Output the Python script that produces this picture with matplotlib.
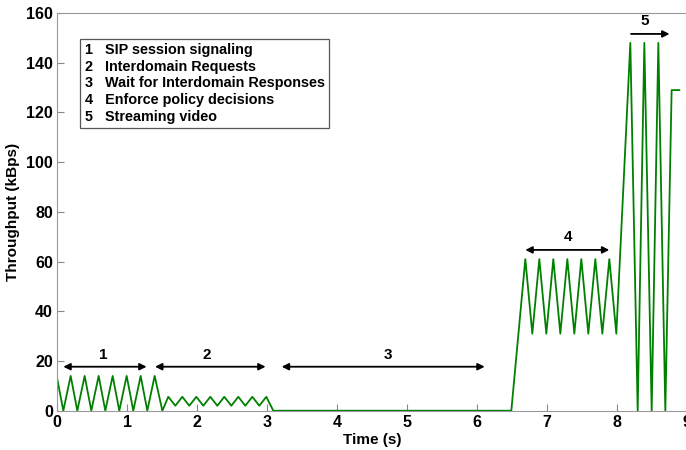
import matplotlib
matplotlib.use("Agg")
import matplotlib.pyplot as plt

plt.rcParams['font.family'] = ['Liberation Sans', 'DejaVu Sans']
plt.rcParams['font.weight'] = 'bold'

# throughput trace (time in s, kBps)
t = [0, 0.09, 0.195, 0.29, 0.395, 0.49, 0.595, 0.69, 0.795, 0.89, 0.995,
     1.09, 1.195, 1.29, 1.395, 1.505,
     1.59, 1.69, 1.79, 1.89, 1.99, 2.09, 2.19, 2.29, 2.39, 2.49, 2.59, 2.69,
     2.79, 2.89, 2.99, 3.09,
     6.49,
     6.69, 6.79, 6.89, 6.99, 7.09, 7.19, 7.29, 7.39, 7.49, 7.59, 7.69, 7.79,
     7.89, 7.99,
     8.19, 8.295, 8.39, 8.495, 8.59, 8.69, 8.78, 8.89]
v = [13.3, 0, 14, 0, 14, 0, 14, 0, 14, 0, 14,
     0, 14, 0, 14, 0,
     5.6, 2, 5.6, 2, 5.6, 2, 5.6, 2, 5.6, 2, 5.6, 2,
     5.6, 2, 5.6, 0,
     0,
     61, 31, 61, 31, 61, 31, 61, 31, 61, 31, 61, 31,
     61, 31,
     148, 0, 148, 0, 148, 0, 129, 129]

# phase annotations: label, arrow start, arrow end, arrow y, label x, label y, both heads
phase_labels = ['1', '2', '3', '4', '5']
arrow_x0 = [0.09, 1.40, 3.21, 6.69, 8.20]
arrow_x1 = [1.28, 2.98, 6.11, 7.89, 8.75]
arrow_y = [17.7, 17.7, 17.7, 64.7, 151.6]
label_x = [0.66, 2.14, 4.73, 7.30, 8.40]
label_y = [19.5, 19.5, 19.5, 67.0, 154.0]
two_sided = [True, True, True, True, False]

legend_lines = ['1   SIP session signaling',
                '2   Interdomain Requests',
                '3   Wait for Interdomain Responses',
                '4   Enforce policy decisions',
                '5   Streaming video']

fig = plt.figure(figsize=(6.86, 4.5), dpi=100)
ax = fig.add_axes([0.0831, 0.0873, 0.9184, 0.8837])

ax.plot(t, v, color='#008000', lw=1.3)

for lab, x0, x1, ya, lx, ly, both in zip(phase_labels, arrow_x0, arrow_x1,
                                          arrow_y, label_x, label_y, two_sided):
    style = '<|-|>' if both else '-|>'
    ax.annotate('', xy=(x1, ya), xytext=(x0, ya),
                arrowprops=dict(arrowstyle=style, color='black', lw=1.3,
                                mutation_scale=10, shrinkA=0, shrinkB=0))
    ax.text(lx, ly, lab, ha='center', va='bottom', fontsize=11, fontweight='bold')

ax.text(0.044, 0.925, '\n'.join(legend_lines), transform=ax.transAxes,
        ha='left', va='top', fontsize=10.4, fontweight='bold', linespacing=1.25,
        bbox=dict(boxstyle='square,pad=0.3', fc='white', ec='#555555', lw=0.9))

ax.set_xlim(0, 9)
ax.set_ylim(0, 160)
ax.set_xticks(range(0, 10))
ax.set_yticks(range(0, 161, 20))
ax.set_xlabel('Time (s)', fontsize=11, fontweight='bold', labelpad=2)
ax.set_ylabel('Throughput (kBps)', fontsize=11, fontweight='bold', labelpad=4)
ax.tick_params(direction='in', length=5, color='#888888', labelsize=11.5, pad=3)
for s in ax.spines.values():
    s.set_color('#999999')

fig.savefig('out.png', dpi=100)
